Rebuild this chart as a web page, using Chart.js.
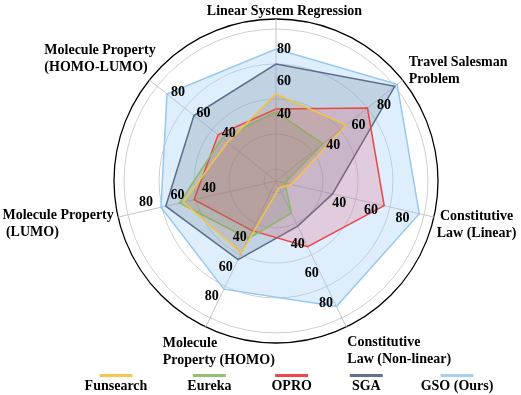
<!DOCTYPE html>
<html><head><meta charset="utf-8">
<script src="https://cdn.jsdelivr.net/npm/chart.js@4.4.1/dist/chart.umd.min.js"></script>
<style>html,body{margin:0;padding:0;background:#fff}canvas{display:block}</style>
</head><body>
<canvas id="c" width="521" height="395"></canvas>
<script>
// ---- data ----
const categories = [
  ["Linear System Regression"],
  ["Travel Salesman", "Problem"],
  ["Constitutive", "Law (Linear)"],
  ["Constitutive", "Law (Non-linear)"],
  ["Molecule", "Property (HOMO)"],
  ["Molecule Property", " (LUMO)"],
  ["Molecule Property", "(HOMO-LUMO)"]
];
const seriesNames = ["Funsearch", "Eureka", "OPRO", "SGA", "GSO (Ours)"];
const funsearch = [53.7, 55.4, 9.7, 4.6, 49.4, 58.6, 38.3];
const eureka    = [42.6, 36.9, 5.6, 22.0, 39.5, 61.1, 42.6];
const opro      = [44.4, 72.2, 68.5, 45.0, 34.0, 51.9, 45.7];
const sga       = [72.2, 93.8, 35.8, 30.9, 53.9, 69.8, 64.8];
const gso       = [81.5, 95.7, 90.7, 86.0, 74.1, 72.8, 86.1];
const tickLabels = [40, 60, 80];

// ---- styling ----
const lineColors = ["#f5c346", "#8cb964", "#eb4646", "#5a6e8c", "#96c8f0"];
const fillColors = ["rgba(170,120,80,0.2)", "rgba(110,120,80,0.18)", "rgba(230,80,110,0.22)", "rgba(80,100,130,0.2)", "rgba(160,205,245,0.35)"];
const legendColors = ["#f9c74f", "#93c06c", "#f04848", "#5f7390", "#a6d0f4"];
const gridValues = [0, 7.4, 29, 50.6, 72.2, 93.8, 100];
const FONT = "bold 14px 'Liberation Serif', 'Times New Roman', serif";
// point-label layout: offset from the axis end, alignment
const labelLayout = [
  {dx: 8.5, dy: -8, align: "center"},
  {dx: 6, dy: -17.5, align: "left"},
  {dx: 42.6, dy: -1, align: "center"},
  {dx: 1, dy: 15, align: "left"},
  {dx: -43, dy: 16, align: "left"},
  {dx: -115.6, dy: -2, align: "left"},
  {dx: -105, dy: -29.3, align: "left"}
];

const seriesData = [funsearch, eureka, opro, sga, gso];
const datasets = seriesNames.map((n, i) => ({
  label: n,
  data: seriesData[i],
  borderColor: lineColors[i],
  backgroundColor: fillColors[i],
  borderWidth: 1.5,
  pointRadius: 0,
  fill: true
}));

const overlay = {
  id: "overlay",
  afterDatasetsDraw(chart) {
    const ctx = chart.ctx, s = chart.scales.r;
    ctx.save();
    ctx.font = FONT;
    ctx.fillStyle = "#000";
    ctx.textBaseline = "middle";
    ctx.textAlign = "center";
    // tick labels on each axis
    for (let i = 0; i < categories.length; i++) {
      const a = s.getIndexAngle(i) - Math.PI / 2;
      tickLabels.forEach(v => {
        const p = s.getPointPositionForValue(i, v);
        const x = p.x + 8 * (-Math.sin(a)) + 2 * Math.cos(a);
        const y = p.y + 8 * Math.cos(a) + 2 * Math.sin(a);
        ctx.fillText(String(v), x, y);
      });
    }
    // point labels
    const R = s.drawingArea;
    categories.forEach((lines, i) => {
      const p = s.getPointPosition(i, R);
      const L = labelLayout[i];
      ctx.textAlign = L.align;
      lines.forEach((t, k) => ctx.fillText(t, p.x + L.dx, p.y + L.dy + k * 17));
    });
    ctx.restore();
  },
  afterDraw(chart) {
    const ctx = chart.ctx;
    ctx.save();
    ctx.font = FONT;
    ctx.textBaseline = "middle";
    ctx.textAlign = "left";
    const gap = 40;
    const widths = seriesNames.map(n => ctx.measureText(n).width);
    const total = widths.reduce((a, b) => a + b, 0) + gap * (widths.length - 1);
    let x = chart.scales.r.xCenter + 13 - total / 2;
    const yText = chart.height - 9, yLine = chart.height - 19.5;
    seriesNames.forEach((n, i) => {
      const cx = x + widths[i] / 2;
      ctx.strokeStyle = legendColors[i];
      ctx.lineWidth = 3;
      ctx.beginPath();
      ctx.moveTo(cx - 16.5, yLine);
      ctx.lineTo(cx + 16.5, yLine);
      ctx.stroke();
      ctx.fillStyle = "#000";
      ctx.fillText(n, x, yText);
      x += widths[i] + gap;
    });
    ctx.restore();
  }
};

new Chart(document.getElementById("c"), {
  type: "radar",
  data: { labels: categories.map(l => l.join(" ")), datasets },
  options: {
    responsive: false,
    devicePixelRatio: 1,
    animation: false,
    layout: { padding: { top: 19, bottom: 52, left: 40, right: 8 } },
    elements: { line: { tension: 0 } },
    plugins: { legend: { display: false }, tooltip: { enabled: false } },
    scales: {
      r: {
        min: 0,
        max: 100,
        afterBuildTicks: sc => { sc.ticks = gridValues.map(v => ({ value: v })); },
        ticks: { display: false },
        pointLabels: { display: false },
        angleLines: { color: "#c4c4c4", lineWidth: 1 },
        grid: {
          circular: true,
          color: c => (c.index === gridValues.length - 1 ? "#000" : "#cfcfcf"),
          lineWidth: c => (c.index === gridValues.length - 1 ? 1.3 : 1)
        }
      }
    }
  },
  plugins: [overlay]
});
</script>
</body></html>
